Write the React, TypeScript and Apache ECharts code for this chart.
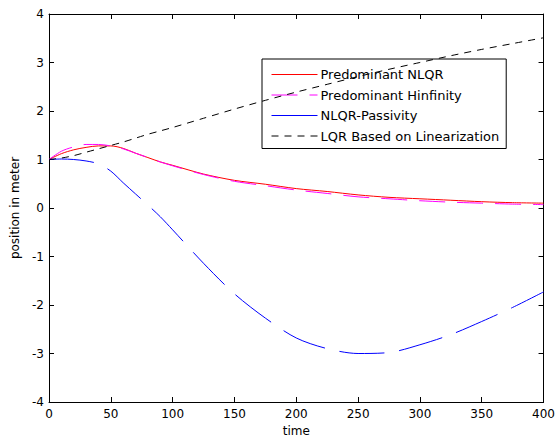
import React, { useEffect, useRef } from "react";
import * as echarts from "echarts";

const T = [0, 10, 20, 30, 40, 50, 60, 70, 80, 90, 100, 125, 150, 175, 200, 225, 250, 275, 300, 325, 350, 375, 400];
const NLQR = [1.0, 1.12, 1.2, 1.25, 1.28, 1.28, 1.23, 1.13, 1.04, 0.95, 0.88, 0.7, 0.57, 0.49, 0.4, 0.34, 0.27, 0.22, 0.19, 0.16, 0.13, 0.11, 0.1];
const HINF = [1.0, 1.17, 1.26, 1.31, 1.31, 1.28, 1.22, 1.13, 1.04, 0.95, 0.87, 0.69, 0.55, 0.46, 0.37, 0.3, 0.23, 0.19, 0.15, 0.12, 0.1, 0.08, 0.07];
const PASSIVITY = [1.0, 1.01, 1.0, 0.97, 0.91, 0.76, 0.52, 0.29, 0.06, -0.18, -0.45, -1.14, -1.77, -2.27, -2.68, -2.9, -3.0, -2.98, -2.82, -2.61, -2.34, -2.05, -1.73];
const LQR = [1.0, 1.03, 1.08, 1.15, 1.22, 1.29, 1.36, 1.44, 1.52, 1.59, 1.66, 1.85, 2.04, 2.22, 2.39, 2.55, 2.71, 2.86, 3.0, 3.14, 3.27, 3.39, 3.51];

const NAMES = ["Predominant NLQR", "Predominant Hinfinity", "NLQR-Passivity", "LQR Based on Linearization"];
const COLORS = ["#ff0000", "#ff00ff", "#0000ff", "#000000"];

const FONT = "DejaVu Sans";

const zip = (ys: number[]) => T.map((t, i) => [t, ys[i]]);

export default function App() {
  const ref = useRef<HTMLDivElement>(null);
  useEffect(() => {
    const chart = echarts.init(ref.current!, null, { renderer: "svg" });
    const axisLine = { show: true, onZero: false, lineStyle: { color: "#000", width: 1 } };
    const tick = { show: true, inside: true, length: 5, lineStyle: { color: "#000" } };
    const label = { color: "#000", fontFamily: FONT, fontSize: 12 };
    const mk = (i: number, data: number[], type: any) => ({
      name: NAMES[i],
      type: "line",
      data: zip(data),
      smooth: 0.3,
      symbol: "none",
      showSymbol: false,
      lineStyle: { color: COLORS[i], width: 1, type },
      itemStyle: { color: COLORS[i] },
      z: 2 + i,
    });
    chart.setOption({
      animation: false,
      backgroundColor: "#fff",
      grid: { left: 49, top: 14, right: 13, bottom: 38, containLabel: false },
      xAxis: [
        {
          type: "value",
          min: 0,
          max: 400,
          interval: 50,
          position: "bottom",
          axisLine,
          axisTick: tick,
          splitLine: { show: false },
          axisLabel: { ...label, margin: 6 },
          name: "time",
          nameLocation: "middle",
          nameGap: 23,
          nameTextStyle: { color: "#000", fontFamily: FONT, fontSize: 12 },
        },
        {
          type: "value",
          min: 0,
          max: 400,
          interval: 50,
          position: "top",
          axisLine,
          axisTick: tick,
          splitLine: { show: false },
          axisLabel: { show: false },
        },
      ],
      yAxis: [
        {
          type: "value",
          min: -4,
          max: 4,
          interval: 1,
          position: "left",
          axisLine,
          axisTick: tick,
          splitLine: { show: false },
          axisLabel: { ...label, margin: 5 },
          name: "position in meter",
          nameLocation: "middle",
          nameGap: 25,
          nameTextStyle: { color: "#000", fontFamily: FONT, fontSize: 12 },
        },
        {
          type: "value",
          min: -4,
          max: 4,
          interval: 1,
          position: "right",
          axisLine,
          axisTick: tick,
          splitLine: { show: false },
          axisLabel: { show: false },
        },
      ],
      legend: {
        orient: "vertical",
        left: 262,
        top: 59,
        itemWidth: 46,
        itemHeight: 14,
        itemGap: 7.5,
        padding: [9, 7, 6, 9],
        backgroundColor: "#fff",
        borderColor: "#000",
        borderWidth: 1,
        borderRadius: 0,
        itemStyle: { opacity: 0 },
        textStyle: { color: "#000", fontFamily: FONT, fontSize: 13, padding: [0, 0, 0, -2] },
        data: [
          { name: NAMES[0], lineStyle: { type: "solid", width: 1, color: COLORS[0] } },
          { name: NAMES[1], lineStyle: { type: [26, 12], width: 1, color: COLORS[1] } },
          { name: NAMES[2], lineStyle: { type: "solid", width: 1, color: COLORS[2] } },
          { name: NAMES[3], lineStyle: { type: [7, 6], width: 1, color: COLORS[3] } },
        ],
      },
      series: [
        mk(0, NLQR, "solid"),
        mk(1, HINF, [26, 12]),
        mk(2, PASSIVITY, [45, 15]),
        mk(3, LQR, [7, 6]),
      ],
    });
    return () => chart.dispose();
  }, []);
  return <div ref={ref} style={{ position: "fixed", left: 0, top: 0, width: 558, height: 442 }} />;
}
